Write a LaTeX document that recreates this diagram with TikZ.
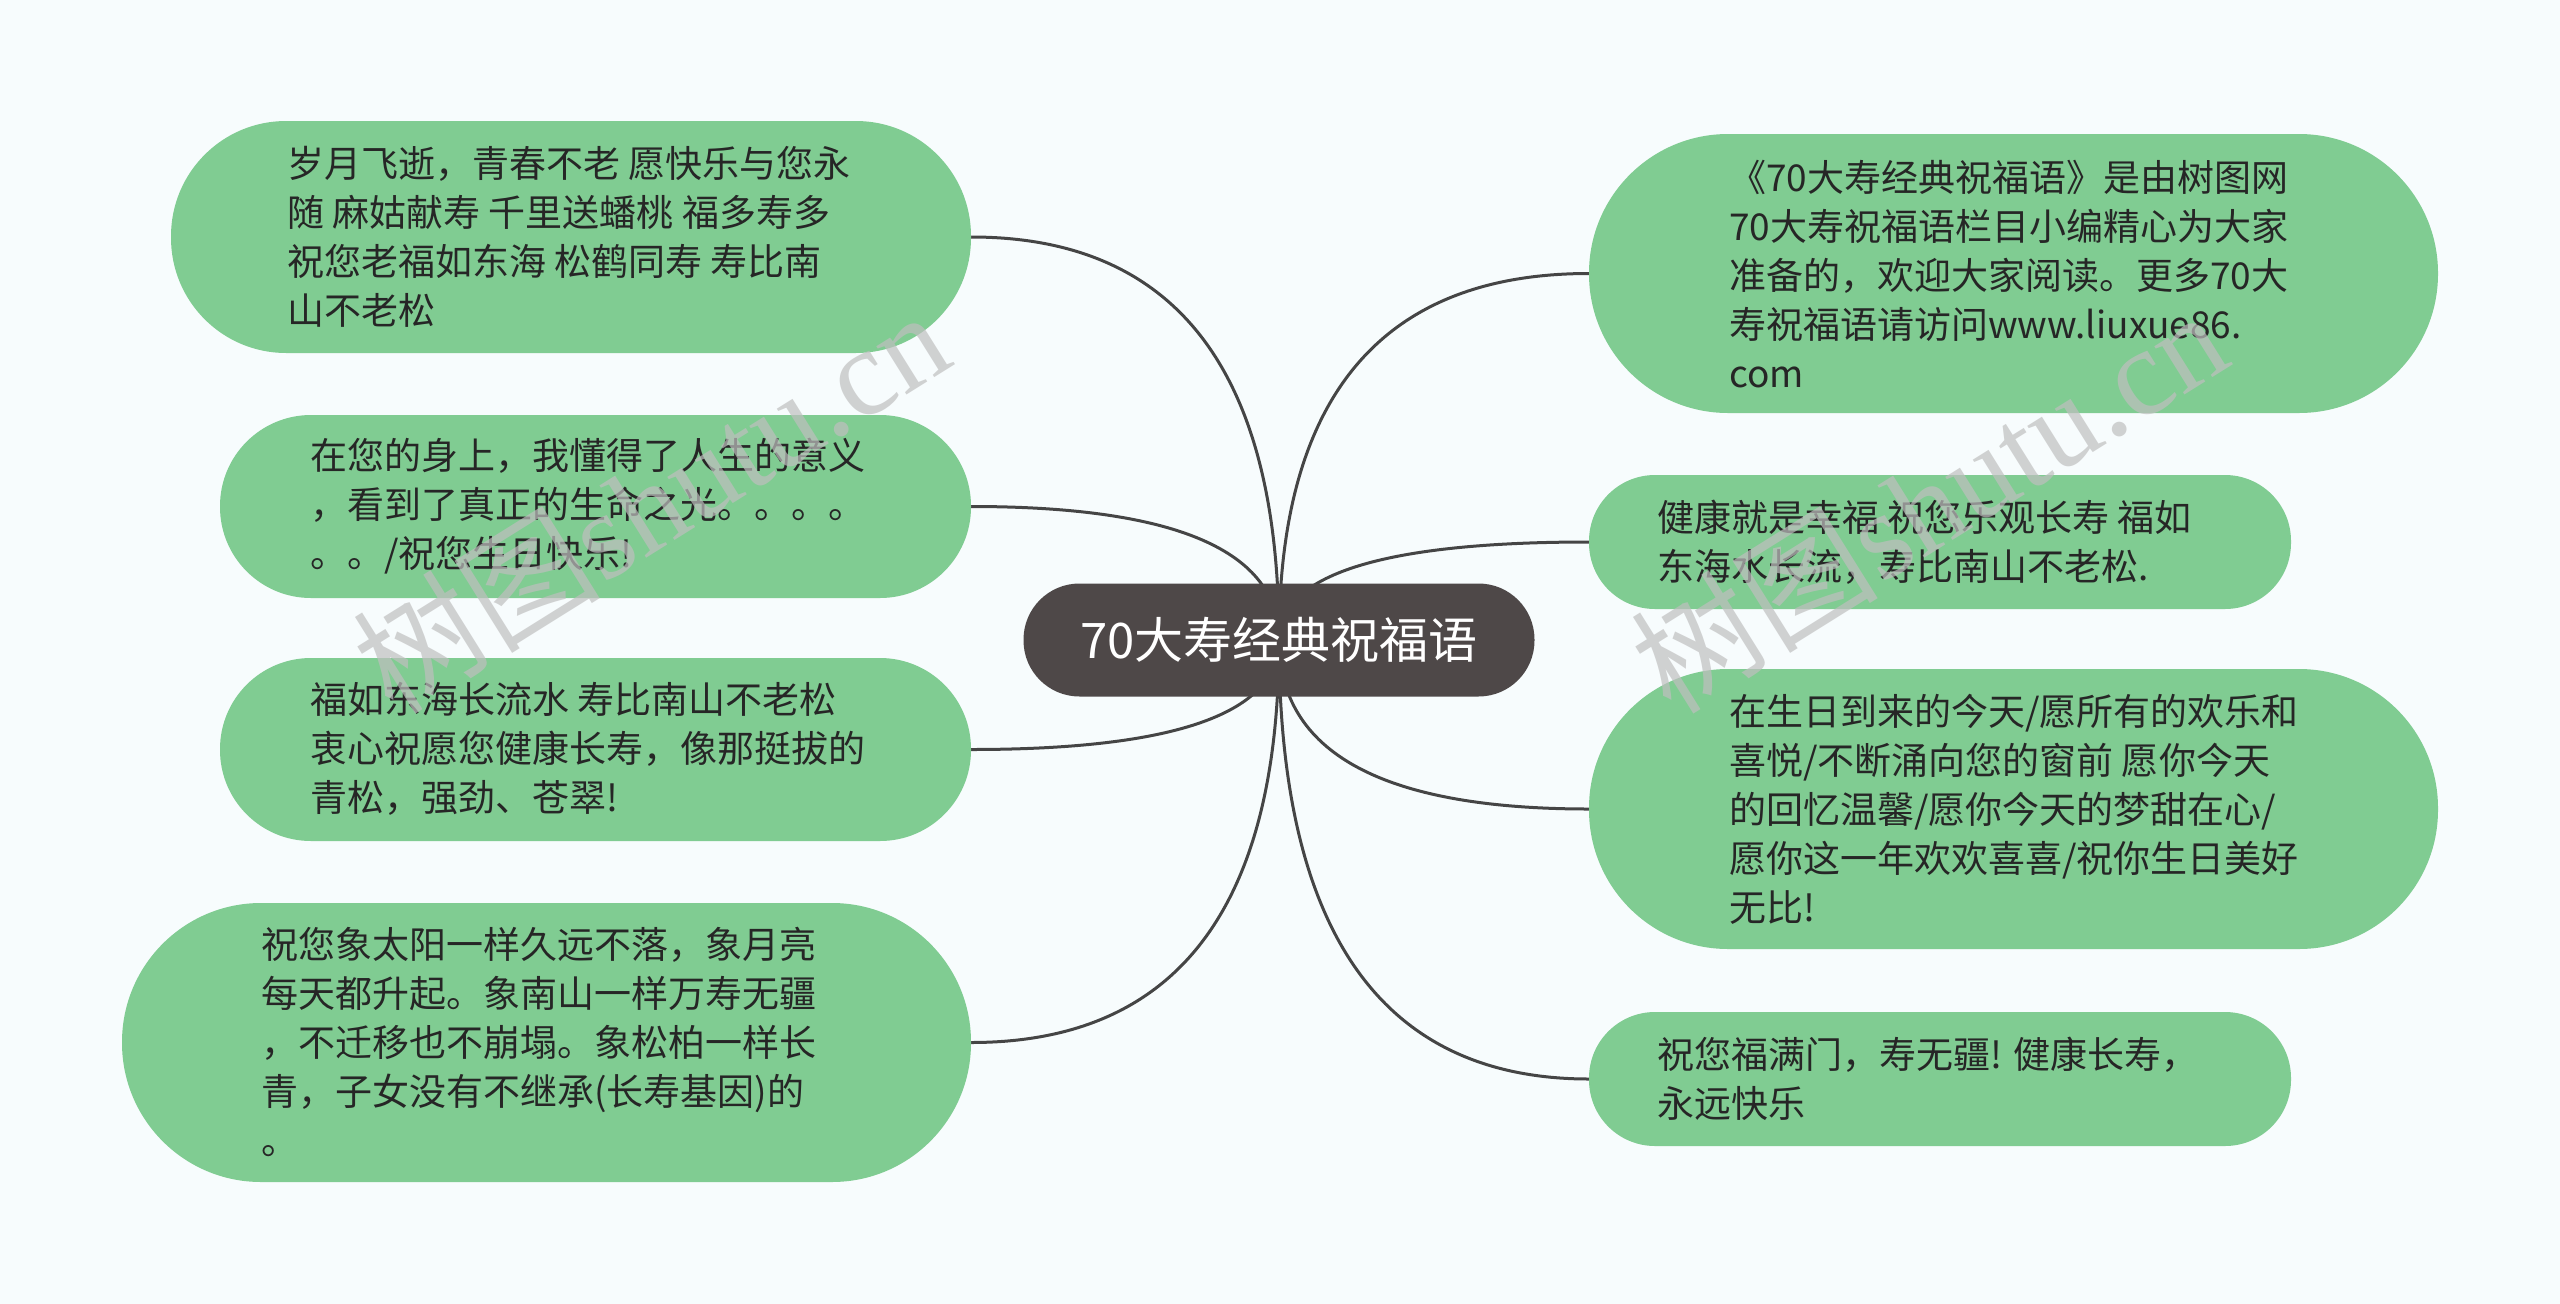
\documentclass[tikz,border=0pt]{standalone}
\usepackage{fontspec}
\newfontfamily\cjk{Noto Sans CJK SC}
\newfontfamily\wmfont{Liberation Serif}
\usetikzlibrary{calc,backgrounds}
\definecolor{bgc}{HTML}{F7FCFD}
\definecolor{leaf}{HTML}{80CC92}
\definecolor{rootc}{HTML}{4E4848}
\definecolor{linec}{HTML}{454545}
\definecolor{txtc}{HTML}{262626}
\newcommand\mmlink[1]{\draw[link] (root.center) .. controls ($(root.center)!0.6667!(root.center |- #1)$) and ($(#1)!0.6667!(root.center |- #1)$) .. (#1);}
\begin{document}
\begin{tikzpicture}[x=1pt,y=-1pt,
  leafbox/.style={fill=leaf, draw=none, inner sep=0pt},
  leaftext/.style={font=\cjk\fontsize{37}{49}\selectfont, text=txtc, align=left, anchor=west, inner sep=0pt},
  link/.style={draw=linec, line width=3pt},
  wm/.style={rotate=32, text=black!25, opacity=0.7, inner sep=0pt, font=\fontsize{124}{124}\selectfont}
]
\useasboundingbox (0,0) rectangle (2560,1304);

% leaf boxes
\node[leafbox, minimum width=800pt, minimum height=232pt, rounded corners=115pt] (l1) at (571,237) {};
\node[leafbox, minimum width=751pt, minimum height=183pt, rounded corners=91pt] (l2) at (595.5,506.5) {};
\node[leafbox, minimum width=751pt, minimum height=183pt, rounded corners=91pt] (l3) at (595.5,749.5) {};
\node[leafbox, minimum width=849pt, minimum height=279pt, rounded corners=139pt] (l4) at (546.5,1042.5) {};
\node[leafbox, minimum width=849pt, minimum height=279pt, rounded corners=139pt] (r1) at (2013.5,273.5) {};
\node[leafbox, minimum width=702pt, minimum height=134pt, rounded corners=66pt] (r2) at (1940,542) {};
\node[leafbox, minimum width=849pt, minimum height=280pt, rounded corners=139pt] (r3) at (2013.5,809) {};
\node[leafbox, minimum width=702pt, minimum height=134pt, rounded corners=66pt] (r4) at (1940,1079) {};

% leaf texts
\node[leaftext] (l1t) at (287,237) {岁月飞逝，青春不老 愿快乐与您永\\随 麻姑献寿 千里送蟠桃 福多寿多\\祝您老福如东海 松鹤同寿 寿比南\\山不老松};
\node[leaftext] (l2t) at (310,506) {在您的身上，我懂得了人生的意义\\，看到了真正的生命之光。。。。\\。。/祝您生日快乐!};
\node[leaftext] (l3t) at (310,749) {福如东海长流水 寿比南山不老松\\衷心祝愿您健康长寿，像那挺拔的\\青松，强劲、苍翠!};
\node[leaftext] (l4t) at (261,1042) {祝您象太阳一样久远不落，象月亮\\每天都升起。象南山一样万寿无疆\\，不迁移也不崩塌。象松柏一样长\\青，子女没有不继承(长寿基因)的\\。};
\node[leaftext] (r1t) at (1729,274) {《70大寿经典祝福语》是由树图网\\70大寿祝福语栏目小编精心为大家\\准备的，欢迎大家阅读。更多70大\\寿祝福语请访问www.liuxue86.\\com};
\node[leaftext] (r2t) at (1657,542) {健康就是幸福 祝您乐观长寿 福如\\东海水长流，寿比南山不老松.};
\node[leaftext] (r3t) at (1729,809) {在生日到来的今天/愿所有的欢乐和\\喜悦/不断涌向您的窗前 愿你今天\\的回忆温馨/愿你今天的梦甜在心/\\愿你这一年欢欢喜喜/祝你生日美好\\无比!};
\node[leaftext] (r4t) at (1657,1079) {祝您福满门，寿无疆! 健康长寿，\\永远快乐};

% root
\node[fill=rootc, draw=none, minimum width=511pt, minimum height=113pt, rounded corners=56pt, text=white, inner sep=0pt, font=\cjk\fontsize{49}{56}\selectfont] (root) at (1279,640) {70大寿经典祝福语};

% background and connectors
\begin{scope}[on background layer]
  \fill[bgc] (0,0) rectangle (2560,1304);
  \mmlink{l1.east}
  \mmlink{l2.east}
  \mmlink{l3.east}
  \mmlink{l4.east}
  \mmlink{r1.west}
  \mmlink{r2.west}
  \mmlink{r3.west}
  \mmlink{r4.west}
\end{scope}

% watermarks
\node[wm] (wm1) at (650,500) {{\cjk 树图}{\wmfont shutu.cn}};
\node[wm] (wm2) at (1928,500) {{\cjk 树图}{\wmfont shutu.cn}};
\end{tikzpicture}
\end{document}
